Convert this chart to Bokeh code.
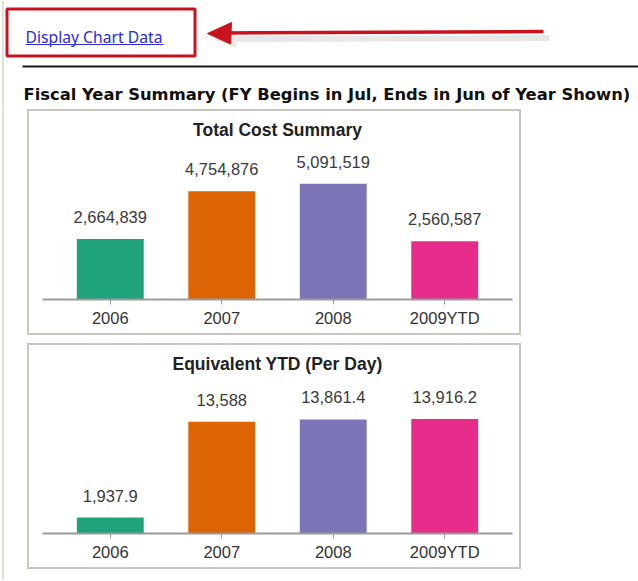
from bokeh.plotting import figure
from bokeh.models import ColumnDataSource, FactorRange, Range1d, LabelSet, Spacer
from bokeh.layouts import column, row
from bokeh.core.properties import value
from bokeh.embed import file_html
from bokeh.resources import INLINE

# ---- data ----
categories = ["2006", "2007", "2008", "2009YTD"]
total_cost = [2664839, 4754876, 5091519, 2560587]
per_day = [1937.9, 13588, 13861.4, 13916.2]
chart_titles = ["Total Cost Summary", "Equivalent YTD (Per Day)"]
page_title = "Fiscal Year Summary (FY Begins in Jul, Ends in Jun of Year Shown)"
link_text = "Display Chart Data"
bar_colors = ["#20a37d", "#dc6404", "#7b74b6", "#e72d8c"]


def fmt(v):
    s = f"{v:,.1f}"
    if s.endswith(".0"):
        s = s[:-2]
    return s


PAGE_LINE = "#d6d6ce"

# ---- header (link, red box, arrow, rule, page title) ----
hdr = figure(width=638, height=109, x_range=Range1d(0, 638), y_range=Range1d(109, 0),
             output_backend="svg", toolbar_location=None, x_axis_location=None,
             y_axis_location=None, min_border=0, outline_line_color=None)
hdr.grid.visible = False

hdr.segment(x0=[2.5], y0=[0], x1=[2.5], y1=[109], line_color=PAGE_LINE, line_width=1.5)

RED = "#c8121e"
hdr.quad(left=6.5, right=194.5, top=8.5, bottom=55.5, fill_color=None,
         line_color=RED, line_width=3)
hdr.text(x=[25], y=[36], text=[link_text], text_font=value("Noto Sans"),
         text_font_size="15.7px", text_color="#2b2bd9", text_baseline="middle")
hdr.segment(x0=[25], y0=[44], x1=[163], y1=[44], line_color="#2b2bd9", line_width=1)

# arrow shadow
hdr.segment(x0=[236], y0=[38.5], x1=[549], y1=[37.5], line_color="#c4c4c4",
            line_width=6, line_alpha=0.4)
hdr.patch(x=[213, 236, 236], y=[39, 29, 48], fill_color="#c4c4c4", fill_alpha=0.35,
          line_color=None)
# arrow
hdr.segment(x0=[226], y0=[32.5], x1=[543], y1=[31], line_color=RED, line_width=3.5)
hdr.patch(x=[207, 231, 230], y=[33, 22, 43.5], fill_color=RED, line_color=RED, line_width=1)

hdr.segment(x0=[22], y0=[66], x1=[638], y1=[66], line_color="#1a1a1a", line_width=2)
hdr.text(x=[23], y=[93.5], text=[page_title], text_font=value("DejaVu Sans"),
         text_font_style="bold", text_font_size="16.35px", text_color="#111111",
         text_baseline="middle")


def make_chart(title, vals, headroom):
    src = ColumnDataSource(dict(cat=categories, val=vals,
                                lab=[fmt(v) for v in vals], color=bar_colors))
    p = figure(width=490, height=222,
               x_range=FactorRange(*categories, range_padding=0.108,
                                   range_padding_units="absolute"),
               y_range=Range1d(0, max(vals) * headroom),
               output_backend="svg", toolbar_location=None, y_axis_location=None,
               min_border_left=13, min_border_right=11, min_border_top=34,
               min_border_bottom=38, outline_line_color=None,
               background_fill_color="white", border_fill_color="white")
    p.styles = {"border": "2px solid #c8c8c0", "box-sizing": "content-box"}
    p.grid.visible = False
    p.vbar(x="cat", top="val", width=0.6, fill_color="color", line_color=None, source=src)
    p.add_layout(LabelSet(x="cat", y="val", text="lab", source=src, text_align="center",
                          text_baseline="middle", y_offset=22,
                          text_font=value("Liberation Sans"), text_font_size="16.5px",
                          text_color="#3a3a3a"))
    p.title.text = title
    p.title.align = "center"
    p.title.text_font = "Liberation Sans"
    p.title.text_font_size = "17.5px"
    p.title.text_font_style = "bold"
    p.title.text_color = "#222222"
    p.title.standoff = 12
    ax = p.xaxis[0]
    ax.axis_line_color = "#9a9a9a"
    ax.axis_line_width = 2
    ax.major_tick_line_color = "#9a9a9a"
    ax.major_tick_out = 5
    ax.major_tick_in = 0
    ax.minor_tick_line_color = None
    ax.major_label_standoff = 4
    ax.major_label_text_font = "Liberation Sans"
    ax.major_label_text_font_size = "16.5px"
    ax.major_label_text_color = "#333333"
    return p


c1 = make_chart(chart_titles[0], total_cost, 1.33)
c2 = make_chart(chart_titles[1], per_day, 1.345)

strip = figure(width=27, height=470, x_range=Range1d(0, 27), y_range=Range1d(470, 0),
               output_backend="svg", toolbar_location=None, x_axis_location=None,
               y_axis_location=None, min_border=0, outline_line_color=None)
strip.grid.visible = False
strip.segment(x0=[2.5], y0=[0], x1=[2.5], y1=[470], line_color=PAGE_LINE, line_width=1.5)

layout = column(hdr,
                row(strip, column(c1, Spacer(width=10, height=8), c2)))

open("out.html", "w").write(file_html(layout, INLINE))
